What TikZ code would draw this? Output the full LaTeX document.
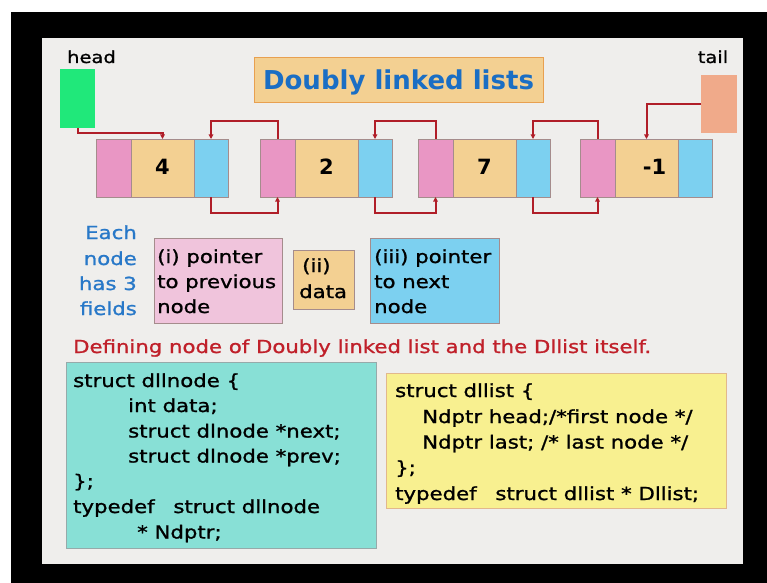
\documentclass[tikz,border=0pt]{standalone}
\usepackage{fontspec}
\setmainfont{DejaVu Sans}
\newfontfamily\cs{DejaVu Sans}[FakeStretch=1.18,FakeBold=1.2]
\usetikzlibrary{arrows.meta}
\definecolor{slidebg}{RGB}{239,238,236}
\definecolor{pinkc}{RGB}{233,150,196}
\definecolor{datac}{RGB}{243,208,146}
\definecolor{bluec}{RGB}{124,208,240}
\definecolor{greenc}{RGB}{32,232,122}
\definecolor{tailc}{RGB}{240,170,138}
\definecolor{lpink}{RGB}{240,196,220}
\definecolor{ptrred}{RGB}{176,30,40}
\definecolor{headred}{RGB}{192,32,42}
\definecolor{titleblue}{RGB}{26,110,196}
\definecolor{eachblue}{RGB}{40,120,200}
\definecolor{cyanc}{RGB}{136,224,214}
\definecolor{yellowc}{RGB}{248,240,144}
\definecolor{boxline}{RGB}{165,140,140}
\definecolor{titleline}{RGB}{232,160,80}
\definecolor{yellowline}{RGB}{226,184,140}
\definecolor{cyanline}{RGB}{150,170,170}
\begin{document}
\begin{tikzpicture}[x=1bp,y=-1bp,
  cell/.style={draw=boxline, line width=0.8bp, inner sep=0pt, outer sep=0pt, anchor=north west, minimum height=58bp},
  panel/.style={draw=boxline, line width=0.8bp, inner sep=0pt, outer sep=0pt, anchor=north west},
  txt/.style={inner sep=0pt, anchor=base west, font={\cs\fontsize{18bp}{25bp}\selectfont}},
  rtxt/.style={txt, anchor=base east, text=eachblue},
  num/.style={inner sep=0pt, anchor=base, font={\bfseries\fontsize{21bp}{25bp}\selectfont}},
  lbl/.style={inner sep=0pt, anchor=base, font={\cs\fontsize{16.5bp}{20bp}\selectfont}},
  ptr/.style={draw=ptrred, line width=2bp, -{Triangle[length=4.5bp,width=4.5bp]}}
]
\useasboundingbox (0,0) rectangle (767,583);
\fill[white] (0,0) rectangle (767,583);
\fill[black] (11,12) rectangle (767,583);
\fill[slidebg] (42,38) rectangle (743,564);

% title
\node[panel, draw=titleline, fill=datac, minimum width=289bp, minimum height=45bp] (title) at (254,57) {};
\node[inner sep=0pt, anchor=base, text=titleblue, font={\bfseries\fontsize{26bp}{30bp}\selectfont}] (titletext) at (398.5,90) {Doubly linked lists};

% head and tail
\node[lbl] (headlbl) at (91.5,63) {head};
\node[panel, fill=greenc, draw=none, minimum width=35bp, minimum height=59bp] (head) at (60,69) {};
\node[lbl] (taillbl) at (713,63) {tail};
\node[panel, fill=tailc, draw=none, minimum width=36bp, minimum height=58bp] (tail) at (701,75) {};

% list nodes
\foreach \i/\x/\v/\o in {1/96/4/0, 2/260/2/0, 3/418/7/0, 4/580/-1/8} {
  \node[cell, fill=pinkc, minimum width=35bp] (pv\i) at (\x,139) {};
  \node[cell, fill=datac, minimum width=63bp] (dt\i) at (\x+35,139) {};
  \node[cell, fill=bluec, minimum width=34bp] (nx\i) at (\x+98,139) {};
  \node[num] (val\i) at (\x+66.5+\o,175) {\v};
}

% pointers
\draw[ptr] (head.south) -- ++(0,5) -| (dt1.north);
\draw[ptr] (tail.west) -| (dt4.north);
\foreach \a/\b in {1/2,2/3,3/4} {
  \draw[ptr] (pv\b.north) -- ++(0,-18) -| (nx\a.north);
  \draw[ptr] (nx\a.south) -- ++(0,16) -| (pv\b.south);
}

% legend
\node[rtxt] (each1) at (137,239) {Each};
\node[rtxt] (each2) at (137,265) {node};
\node[rtxt] (each3) at (137,290) {has 3};
\node[rtxt] (each4) at (137,315) {fields};

\node[panel, fill=lpink, minimum width=128bp, minimum height=85bp] (fprev) at (154,238) {};
\node[txt] (fprev1) at (157,263) {(i) pointer};
\node[txt] (fprev2) at (157,288) {to previous};
\node[txt] (fprev3) at (157,313) {node};

\node[panel, fill=datac, minimum width=61bp, minimum height=59bp] (fdata) at (293,250) {};
\node[txt] (fdata1) at (302,272) {(ii)};
\node[txt] (fdata2) at (299,298) {data};

\node[panel, fill=bluec, minimum width=129bp, minimum height=85bp] (fnext) at (370,238) {};
\node[txt] (fnext1) at (374,263) {(iii) pointer};
\node[txt] (fnext2) at (374,288) {to next};
\node[txt] (fnext3) at (374,313) {node};

% heading
\node[txt, text=headred] (heading) at (73,353) {Defining node of Doubly linked list and the Dllist itself.};

% code boxes
\node[panel, draw=cyanline, fill=cyanc, minimum width=310bp, minimum height=186bp] (codebox) at (66,362) {};
\node[txt] (c1) at (73,387) {struct dllnode \{};
\node[txt] (c2) at (128,412) {int data;};
\node[txt] (c3) at (128,437.5) {struct dlnode *next;};
\node[txt] (c4) at (128,462.5) {struct dlnode *prev;};
\node[txt] (c5) at (73,487.5) {\};};
\node[txt] (c6) at (73,513) {typedef\hspace{12bp} struct dllnode};
\node[txt] (c7) at (137,538.5) {* Ndptr;};

\node[panel, draw=yellowline, fill=yellowc, minimum width=340bp, minimum height=135bp] (listbox) at (386,373) {};
\node[txt] (l1) at (395,397) {struct dllist \{};
\node[txt] (l2) at (422,423) {Ndptr head;/*first node */};
\node[txt] (l3) at (422,448.5) {Ndptr last; /* last node */};
\node[txt] (l4) at (395,474) {\};};
\node[txt] (l5) at (395,500) {typedef\hspace{12bp} struct dllist * Dllist;};
\end{tikzpicture}
\end{document}
